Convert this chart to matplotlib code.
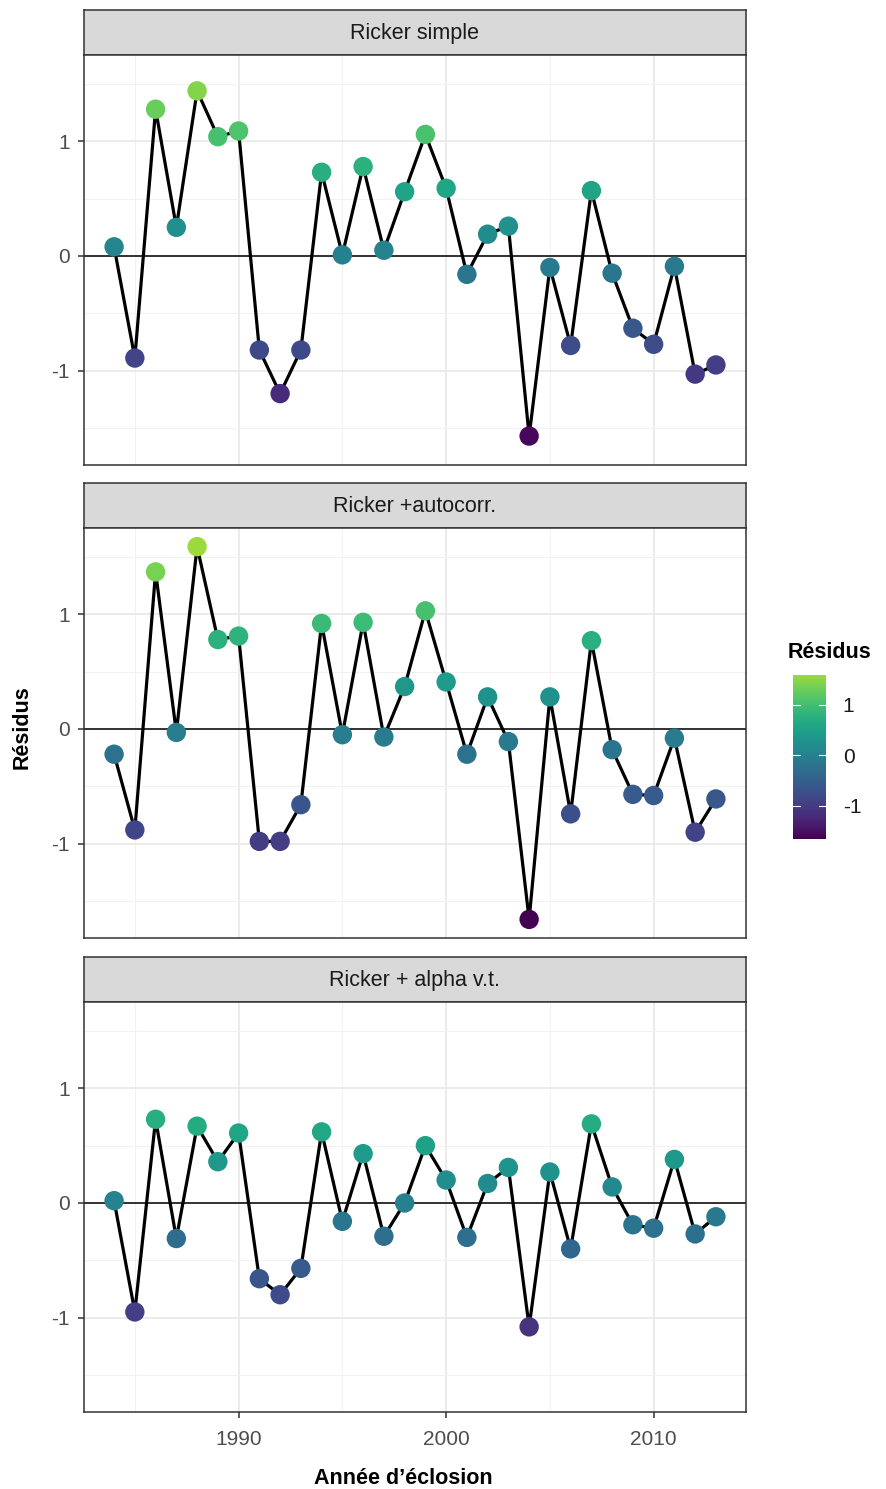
import numpy as np
import matplotlib
matplotlib.use("Agg")
from matplotlib import pyplot as plt
from matplotlib.colors import ListedColormap
from matplotlib.ticker import FixedLocator

plt.rcParams['font.family'] = ['Liberation Sans', 'DejaVu Sans']

years = list(range(1984, 2014))
panels = ["Ricker simple", "Ricker +autocorr.", "Ricker + alpha v.t."]

res_simple = [0.08, -0.89, 1.28, 0.25, 1.44, 1.04, 1.09, -0.82, -1.20, -0.82,
              0.73, 0.01, 0.78, 0.05, 0.56, 1.06, 0.59, -0.16, 0.19, 0.26,
              -1.57, -0.10, -0.78, 0.57, -0.15, -0.63, -0.77, -0.09, -1.03, -0.95]
res_autocorr = [-0.22, -0.88, 1.37, -0.03, 1.59, 0.78, 0.81, -0.98, -0.98, -0.66,
                0.92, -0.05, 0.93, -0.07, 0.37, 1.03, 0.41, -0.22, 0.28, -0.11,
                -1.66, 0.28, -0.74, 0.77, -0.18, -0.57, -0.58, -0.08, -0.90, -0.61]
res_alpha = [0.02, -0.95, 0.73, -0.31, 0.67, 0.36, 0.61, -0.66, -0.80, -0.57,
             0.62, -0.16, 0.43, -0.29, 0.00, 0.50, 0.20, -0.30, 0.17, 0.31,
             -1.08, 0.27, -0.40, 0.69, 0.14, -0.19, -0.22, 0.38, -0.27, -0.12]
series = [res_simple, res_autocorr, res_alpha]

# viridis cut at 0.85 (top of the legend is green, not yellow)
vir = plt.get_cmap('viridis')
cmap = ListedColormap(vir(np.linspace(0, 0.85, 256)))

W, H = 887, 1489
fig = plt.figure(figsize=(W / 100, H / 100), dpi=100)

allv = np.concatenate([np.array(s) for s in series])
vmin, vmax = allv.min(), allv.max()
pad = 0.05 * (vmax - vmin)
ylim = (vmin - pad, vmax + pad)
xpad = 0.05 * (years[-1] - years[0])
xlim = (years[0] - xpad, years[-1] + xpad)

left, right = 84, 746
tops = [10, 483, 957]
strip_h = 45
plot_h = 410
edge = '#333333'

def fr(x0, y0, x1, y1):
    return [x0 / W, 1 - y1 / H, (x1 - x0) / W, (y1 - y0) / H]

sc = None
for i, (name, vals) in enumerate(zip(panels, series)):
    t = tops[i]
    sax = fig.add_axes(fr(left, t, right, t + strip_h))
    sax.set_facecolor('#D9D9D9')
    sax.set_xticks([]); sax.set_yticks([])
    for sp in sax.spines.values():
        sp.set_color(edge); sp.set_linewidth(1.1)
    sax.text(0.5, 0.48, name, ha='center', va='center', fontsize=15.5,
             color='#1A1A1A', transform=sax.transAxes)

    ax = fig.add_axes(fr(left, t + strip_h, right, t + strip_h + plot_h))
    ax.set_xlim(xlim); ax.set_ylim(ylim)
    ax.xaxis.set_major_locator(FixedLocator([1990, 2000, 2010]))
    ax.xaxis.set_minor_locator(FixedLocator([1985, 1995, 2005]))
    ax.yaxis.set_major_locator(FixedLocator([-1, 0, 1]))
    ax.yaxis.set_minor_locator(FixedLocator([-1.5, -0.5, 0.5, 1.5]))
    ax.grid(which='major', color='#EBEBEB', linewidth=1.4)
    ax.grid(which='minor', color='#F2F2F2', linewidth=0.8)
    ax.set_axisbelow(True)
    for sp in ax.spines.values():
        sp.set_color(edge); sp.set_linewidth(1.1)
    ax.tick_params(which='major', length=4, color=edge, labelsize=15,
                   labelcolor='#4D4D4D', width=1.1)
    ax.tick_params(axis='x', which='major', pad=9)
    ax.tick_params(axis='y', which='major', pad=6)
    ax.tick_params(which='minor', length=0)
    ax.set_yticklabels(['-1', '0', '1'])
    if i < 2:
        ax.tick_params(axis='x', which='major', labelbottom=False, length=0)

    ax.axhline(0, color='black', linewidth=1.1, zorder=1)
    ax.plot(years, vals, color='black', linewidth=2.3, zorder=2)
    sc = ax.scatter(years, vals, c=vals, cmap=cmap, vmin=vmin, vmax=vmax,
                    s=195, zorder=3, linewidths=0)

# axis labels
fig.text(403 / W, 1 - 1478 / H, "Année d\u2019éclosion", ha='center', va='center',
         fontsize=15.5, fontweight='bold')
fig.text(22 / W, 1 - 727 / H, "Résidus", ha='center', va='center',
         rotation=90, fontsize=15.5, fontweight='bold')

# colorbar
cax = fig.add_axes(fr(793, 675, 826, 839))
cb = fig.colorbar(sc, cax=cax)
cb.set_ticks([-1, 0, 1])
cb.set_ticklabels(['-1', '0', '1'])
cb.outline.set_visible(False)
cax.tick_params(length=0, labelsize=15, labelcolor='#1A1A1A', pad=12)
for v in [-1, 0, 1]:
    cax.plot([0, 0.2], [v, v], color='white', linewidth=0.8, transform=cax.get_yaxis_transform())
    cax.plot([0.8, 1.0], [v, v], color='white', linewidth=0.8, transform=cax.get_yaxis_transform())
fig.text(788 / W, 1 - 653 / H, "Résidus", ha='left', va='center',
         fontsize=15.5, fontweight='bold')

fig.savefig("out.png", dpi=100)
